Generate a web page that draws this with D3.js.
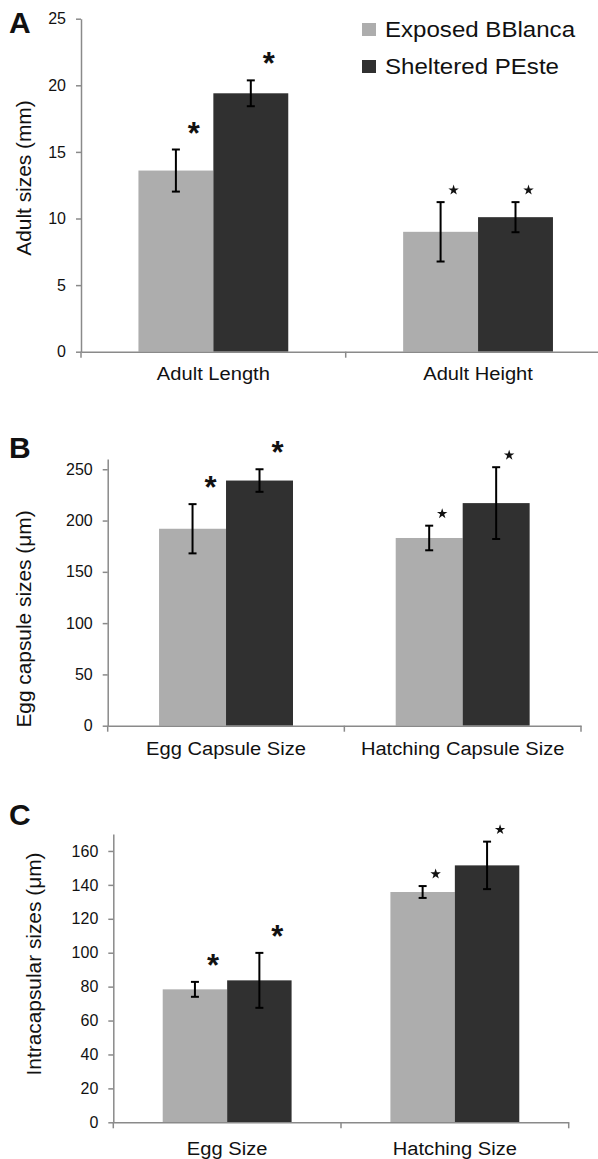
<!DOCTYPE html>
<html>
<head>
<meta charset="utf-8">
<script src="https://cdn.jsdelivr.net/npm/d3@7"></script>
<style>
body { margin: 0; background: #fff; }
text { font-family: Arial, "Liberation Sans", sans-serif; fill: #111; }
</style>
</head>
<body>
<div id="grafico"></div>
<script>
const series = ['Exposed BBlanca', 'Sheltered PEste']
const colors = ['#adadad', '#303030']

// A: adult sizes (mm)
const adultCats = ['Adult Length', 'Adult Height']
const adultExposed = [13.6, 9.0]
const adultExposedErr = [1.58, 2.23]
const adultSheltered = [19.4, 10.1]
const adultShelteredErr = [0.97, 1.13]
const adultTicks = [0, 5, 10, 15, 20, 25]

// B: egg capsule sizes (µm)
const capsuleCats = ['Egg Capsule Size', 'Hatching Capsule Size']
const capsuleExposed = [192, 183]
const capsuleExposedErr = [24, 12]
const capsuleSheltered = [239, 217]
const capsuleShelteredErr = [11, 35]
const capsuleTicks = [0, 50, 100, 150, 200, 250]

// C: intracapsular sizes (µm)
const intraCats = ['Egg Size', 'Hatching Size']
const intraExposed = [78.4, 135.8]
const intraExposedErr = [4.4, 3.5]
const intraSheltered = [83.7, 151.5]
const intraShelteredErr = [16.2, 14]
const intraTicks = [0, 20, 40, 60, 80, 100, 120, 140, 160]

// significance marks per category (same for both series)
const marks = ['asterisk', 'star']

const width = 598
const height = 1159

const svg = d3.select('#grafico')
              .append('svg')
              .attr('width', width)
              .attr('height', height)

const panels = [
    { letter: 'A', title: 'Adult sizes (mm)', cats: adultCats,
      values: [adultExposed, adultSheltered], errors: [adultExposedErr, adultShelteredErr],
      ticks: adultTicks, max: 25, labelPad: 14.5,
      left: 81, right: 610.4, top: 18.7, bottom: 351.7, letterY: 33, titleX: 31, titleY: 178 },
    { letter: 'B', title: 'Egg capsule sizes (μm)', cats: capsuleCats,
      values: [capsuleExposed, capsuleSheltered], errors: [capsuleExposedErr, capsuleShelteredErr],
      ticks: capsuleTicks, max: 260, labelPad: 15.5,
      left: 107.7, right: 581, top: 459, bottom: 725.7, letterY: 458, titleX: 31, titleY: 619 },
    { letter: 'C', title: 'Intracapsular sizes (μm)', cats: intraCats,
      values: [intraExposed, intraSheltered], errors: [intraExposedErr, intraShelteredErr],
      ticks: intraTicks, max: 170, labelPad: 19,
      left: 113.3, right: 568.7, top: 834, bottom: 1122.3, letterY: 825, titleX: 41, titleY: 964 }
]

panels.forEach(p => {
    const g = svg.append('g')

    const x = d3.scaleBand()
                .domain(p.cats)
                .range([p.left, p.right])
                .paddingInner(0.434)
                .paddingOuter(0.217)

    const xs = d3.scaleBand()
                 .domain(d3.range(series.length))
                 .range([0, x.bandwidth()])

    const y = d3.scaleLinear()
                .domain([0, p.max])
                .range([p.bottom, p.top])

    // one row per bar
    const rows = []
    p.cats.forEach((c, i) => {
        series.forEach((s, j) => {
            rows.push({ cat: c, ci: i, si: j, value: p.values[j][i], err: p.errors[j][i] })
        })
    })

    g.selectAll('rect.bar')
     .data(rows)
     .enter()
     .append('rect')
     .attr('class', 'bar')
     .attr('x', d => x(d.cat) + xs(d.si))
     .attr('y', d => y(d.value))
     .attr('width', xs.bandwidth())
     .attr('height', d => y(0) - y(d.value))
     .style('fill', d => colors[d.si])

    // y axis
    const yAxis = g.append('g')
                   .attr('transform', `translate(${p.left},0)`)
                   .call(d3.axisLeft(y).tickValues(p.ticks).tickSize(5).tickSizeOuter(0).tickPadding(10))
    yAxis.select('.domain').attr('stroke', '#8a8a8a').attr('stroke-width', 1.5)
    yAxis.selectAll('.tick line').attr('stroke', '#8a8a8a').attr('stroke-width', 1.5)
    yAxis.selectAll('.tick text')
         .style('font-size', '16px')
         .attr('fill', '#111')
         .attr('x', -15)

    // x axis
    const xAxis = g.append('g')
                   .attr('transform', `translate(0,${p.bottom})`)
                   .call(d3.axisBottom(x).tickSize(0).tickSizeOuter(0).tickPadding(p.labelPad))
    xAxis.select('.domain').attr('stroke', '#8a8a8a').attr('stroke-width', 1.5)
    xAxis.selectAll('.tick text')
         .style('font-size', '19px')
         .attr('fill', '#111')
         .attr('transform', 'scale(1.06,1)')

    const bounds = d3.range(p.cats.length + 1).map(i => x.range()[0] + i * x.step())
    g.selectAll('line.bound')
     .data(bounds)
     .enter()
     .append('line')
     .attr('x1', d => d).attr('x2', d => d)
     .attr('y1', p.bottom).attr('y2', p.bottom + 6)
     .attr('stroke', '#8a8a8a')
     .attr('stroke-width', 1.5)

    // error bars
    const cx = d => x(d.cat) + xs(d.si) + xs.bandwidth() / 2
    const eb = g.selectAll('g.err')
                .data(rows)
                .enter()
                .append('g')
                .attr('class', 'err')
                .attr('stroke', '#000')
                .attr('stroke-width', 2)
    eb.append('line')
      .attr('x1', cx).attr('x2', cx)
      .attr('y1', d => y(d.value + d.err)).attr('y2', d => y(d.value - d.err))
    eb.append('line')
      .attr('x1', d => cx(d) - 4).attr('x2', d => cx(d) + 4)
      .attr('y1', d => y(d.value + d.err)).attr('y2', d => y(d.value + d.err))
    eb.append('line')
      .attr('x1', d => cx(d) - 4).attr('x2', d => cx(d) + 4)
      .attr('y1', d => y(d.value - d.err)).attr('y2', d => y(d.value - d.err))

    // significance marks
    g.selectAll('text.ast')
     .data(rows.filter(d => marks[d.ci] === 'asterisk'))
     .enter()
     .append('text')
     .attr('class', 'ast')
     .attr('x', d => cx(d) + 18)
     .attr('y', d => y(d.value + d.err) - 23 + 17)
     .attr('text-anchor', 'middle')
     .style('font-size', '31px')
     .style('font-weight', 'bold')
     .text('*')

    g.selectAll('path.star')
     .data(rows.filter(d => marks[d.ci] === 'star'))
     .enter()
     .append('path')
     .attr('class', 'star')
     .attr('d', d3.symbol().type(d3.symbolStar).size(34))
     .attr('transform', d => `translate(${cx(d) + 13},${y(d.value + d.err) - 12})`)
     .style('fill', '#111')

    // y title
    g.append('text')
     .attr('transform', `translate(${p.titleX},${p.titleY}) rotate(-90) scale(1.07,1)`)
     .attr('text-anchor', 'middle')
     .style('font-size', '19.5px')
     .text(p.title)

    // panel letter
    g.append('text')
     .attr('x', 9)
     .attr('y', p.letterY)
     .style('font-size', '30px')
     .style('font-weight', 'bold')
     .text(p.letter)
})

// legend
const legend = svg.append('g')
legend.selectAll('rect')
      .data(series)
      .enter()
      .append('rect')
      .attr('x', 362)
      .attr('y', (d, i) => 23 + i * 37)
      .attr('width', 14)
      .attr('height', 13)
      .style('fill', (d, i) => colors[i])

legend.selectAll('text')
      .data(series)
      .enter()
      .append('text')
      .attr('transform', (d, i) => `translate(385,${36.5 + i * 37}) scale(1.07,1)`)
      .style('font-size', '22.5px')
      .text(d => d)
</script>
</body>
</html>
